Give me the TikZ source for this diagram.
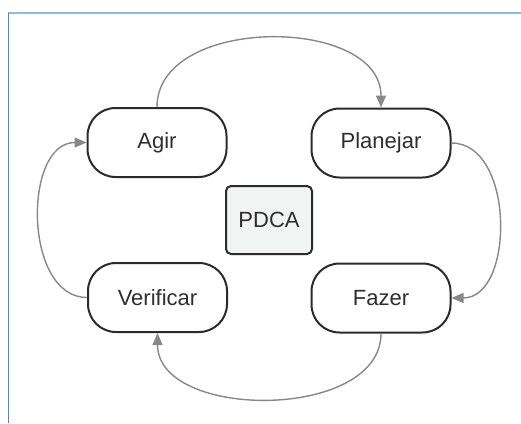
\documentclass[tikz,border=0pt]{standalone}
\usepackage{fontspec}
\setmainfont{Liberation Sans}
\usetikzlibrary{arrows.meta}
\definecolor{boxline}{HTML}{2B2B2B}
\definecolor{txt}{HTML}{2E2E2E}
\definecolor{arr}{HTML}{888888}
\definecolor{pdcafill}{HTML}{F2F3F3}
\definecolor{topblue}{HTML}{8DBCE0}
\definecolor{leftblue}{HTML}{3C8DD8}
\tikzset{
  stepbox/.style={draw=boxline, line width=2pt, rounded corners=28pt, minimum width=139pt, minimum height=69pt, inner sep=0pt, text=txt, font=\fontsize{22}{25}\selectfont},
  centerbox/.style={draw=boxline, line width=2pt, rounded corners=5pt, fill=pdcafill, minimum width=86pt, minimum height=68pt, inner sep=0pt, text=txt, font=\fontsize{22}{25}\selectfont},
  flow/.style={draw=arr, line width=1.4pt, -{Triangle[length=12pt,width=10pt]}},
}
\begin{document}
\begin{tikzpicture}[x=1pt,y=-1pt]
\useasboundingbox (0,0) rectangle (521,423);
\fill[white] (0,0) rectangle (521,423);
\draw[topblue, line width=1.6pt] (8,13) -- (521,13);
\draw[leftblue, line width=1pt] (8,13) -- (8,423);
\node[stepbox] (agir) at (157,142.5) {Agir};
\node[stepbox] (plan) at (381,143) {Planejar};
\node[stepbox] (fazer) at (381,298) {Fazer};
\node[stepbox] (verif) at (157.5,297.5) {Verificar};
\node[centerbox] (pdca) at (269,220) {PDCA};
\draw[flow] (agir.north) to[out=90,in=90,looseness=1.05] (plan.north);
\draw[flow] (plan.east) to[out=0,in=0,looseness=1.05] (fazer.east);
\draw[flow] (fazer.south) to[out=-90,in=-90,looseness=1.0] (verif.south);
\draw[flow] (verif.west) to[out=180,in=180,looseness=1.05] (agir.west);
\end{tikzpicture}
\end{document}
